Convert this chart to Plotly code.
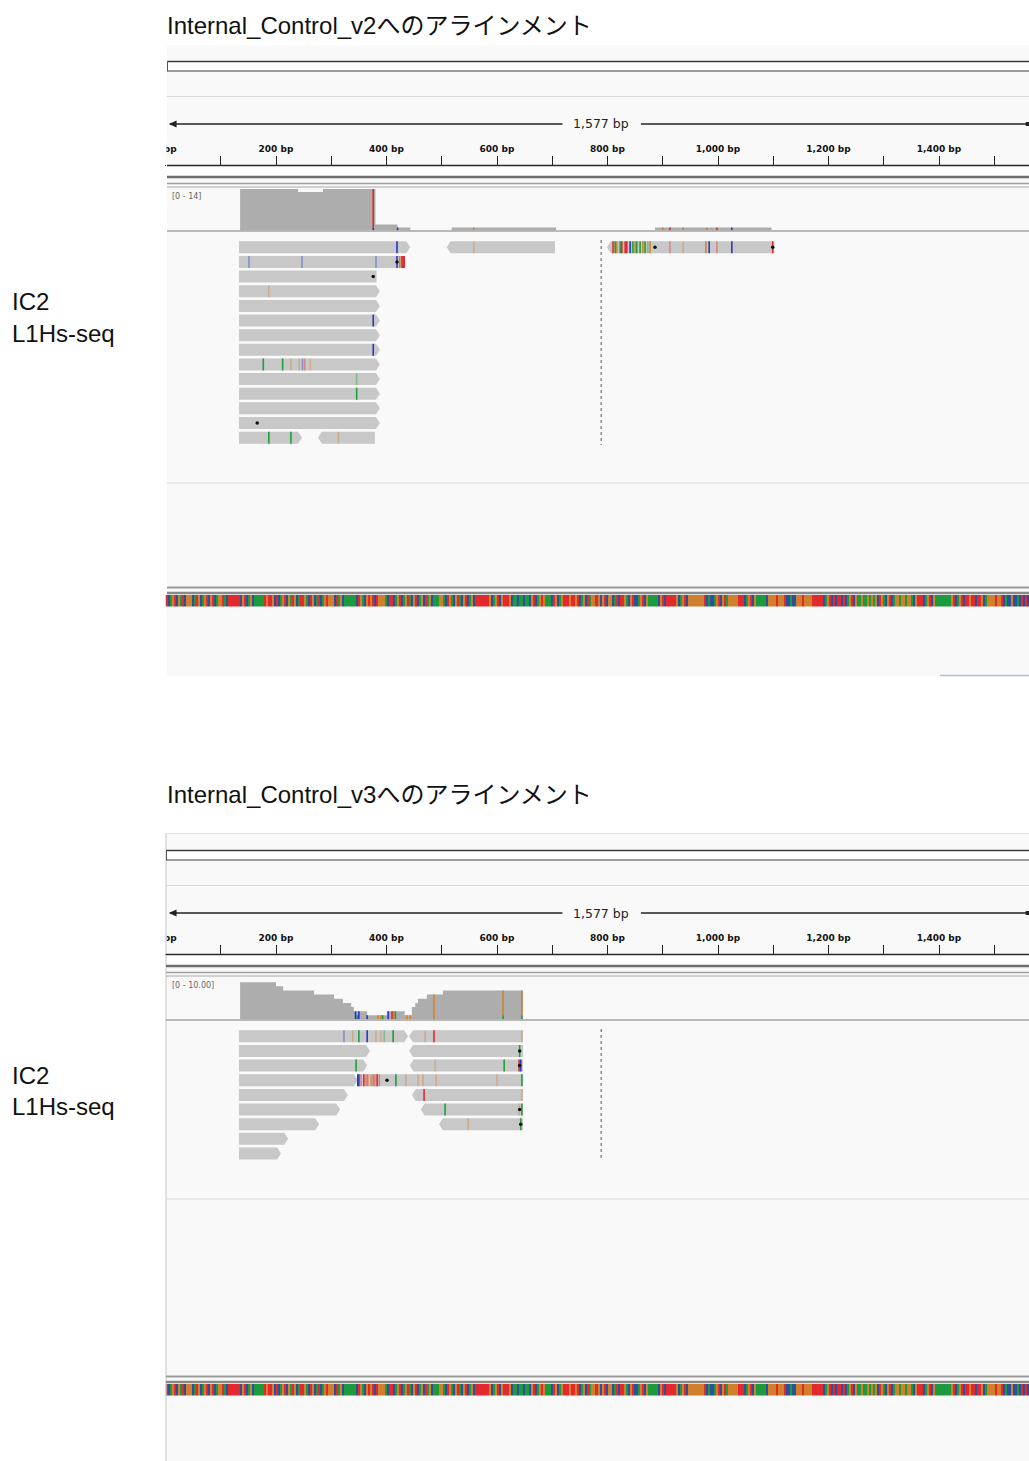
import plotly.graph_objects as go

W, H = 1029, 1461

# ---------------- reference / view ----------------
REF_LEN = 1577
VIEW_BP = (0, 1562.9)

TICK_BP = list(range(0, 1600, 100))
TICK_LABELS = ["0 bp", "", "200 bp", "", "400 bp", "", "600 bp", "", "800 bp", "",
               "1,000 bp", "", "1,200 bp", "", "1,400 bp", ""]

# dominant reference base per display bin across the view
REF_BASES = (
    "TCAGTC" "GATCG" "GGCATGC" "AGTCGT" "CAGGTAC" "TTTTTT" "CGTCAGC" "AAAAA" "TGTTGCT"
    "CAGTCGATGCA" "TT" "GACTGCATCAGT" "GGG" "CTAGC" "AAAAAA" "CTGACG" "TGT" "CTGGG" "ACT"
    "TCAGTCA" "GTACGTCAGCTAGCA" "AAGGA" "CTGACGTACGTCAGC" "TTTTTTT" "GCAGTCG" "TTT" "GCA"
    "ACAACAAC" "GTCAGTG" "AAA" "CTGCAGT" "TTGTTGT" "CAGCTAG" "GTGCGTCG"
    "GCATC" "TT" "GACGTC" "C" "AGTCGA" "AAAA" "CGTC" "TTTTT" "GCAGTCG" "GGGGGGG" "TCA" "CC"
    "AGTCGTA" "GGGGG" "TTT" "CAGTCG" "AAAAA" "C" "GGGGTGGG" "T" "CCACC" "GGGTGGGG"
    "TTTTT" "CAGTC" "TCTTCTC" "AGTCG" "AAGAAGAGAG" "CTGACGTCAG" "GAGGAGGA" "CG" "TTT"
    "CAGTCGA" "AAAAAAA" "GTCAGTC" "TTGTTCTT" "GCA" "GGGGTGG" "TCA" "CCGCCAC" "TCTC"
)

# ---------------- Internal_Control_v2 ----------------
v2_title = "Internal_Control_v2へのアラインメント"
v2_cov_range = "[0 - 14]"
v2_cov_max = 14
v2_cov_start = [135, 240, 285, 380, 420, 443, 518, 707, 886, 1097]
v2_cov_depth = [14, 13, 14, 2, 1, 0, 1, 0, 1, 0]
# coloured allele bars in coverage: (bp, low, high, base)
v2_cov_alleles = [(376, 1, 14, "T"), (376, 0, 1, "C"), (420, 0, 1, "C"), (558, 0, 1, "G"),
                  (900, 0, 1, "G"), (913, 0, 1, "T"), (937, 0, 1, "G"), (980, 0, 1, "G"),
                  (998, 0, 1, "T"), (1025, 0, 1, "C")]
v2_read_start = [133, 509, 799, 133, 133, 133, 133, 133, 133, 133, 133, 133, 133, 133, 133, 133, 276]
v2_read_end = [443, 705, 1102, 433, 382, 388, 388, 388, 388, 388, 388, 388, 388, 388, 388, 247, 379]
v2_read_row = [0, 0, 0, 1, 2, 3, 4, 5, 6, 7, 8, 9, 10, 11, 12, 13, 13]
v2_read_strand = ["+", "-", "-", ".", ".", "+", "+", "+", "+", "+", "+", "+", "+", "+", "+", "+", "-"]
# mismatches: (bp, row, base, low quality)
v2_mismatch = [
    (419, 0, "C", 0), (558, 0, "G", 1),
    (810, 0, "T", 0), (814, 0, "A", 0), (817, 0, "G", 0), (823, 0, "A", 0), (826, 0, "T", 0),
    (832, 0, "T", 0), (835, 0, "T", 0), (841, 0, "C", 0), (846, 0, "A", 0), (850, 0, "G", 0),
    (853, 0, "A", 0), (859, 0, "A", 0), (864, 0, "G", 0), (868, 0, "A", 0), (873, 0, "A", 1),
    (877, 0, "G", 0), (913, 0, "T", 1), (937, 0, "G", 1), (978, 0, "G", 0), (984, 0, "C", 0),
    (998, 0, "T", 1), (1025, 0, "C", 0), (1099, 0, "T", 0),
    (151, 1, "C", 1), (247, 1, "C", 1), (381, 1, "C", 1), (419, 1, "C", 0), (424, 1, "G", 0),
    (428, 1, "T", 0), (430, 1, "T", 0), (432, 1, "T", 0),
    (187, 3, "G", 1), (376, 5, "C", 0), (376, 7, "C", 0),
    (177, 8, "A", 0), (212, 8, "A", 0), (227, 8, "G", 1), (242, 8, "G", 1), (248, 8, "C", 1),
    (252, 8, "T", 1), (262, 8, "G", 1),
    (346, 9, "A", 1), (346, 10, "A", 0),
    (187, 13, "A", 0), (227, 13, "A", 0), (313, 13, "G", 1),
]
v2_indel = [(886, 0), (1099, 0), (419, 1), (376, 2), (166, 12)]

# ---------------- Internal_Control_v3 ----------------
v3_title = "Internal_Control_v3へのアラインメント"
v3_cov_range = "[0 - 10.00]"
v3_cov_max = 10
v3_cov_start = [135, 200, 213, 269, 305, 321, 336, 341, 365, 401, 433, 446, 452, 457, 473, 502, 647]
v3_cov_depth = [9, 8, 7, 6, 5, 4, 3, 2, 1, 2, 1, 3, 4, 5, 6, 7, 0]
v3_cov_alleles = [(344, 0, 2, "C"), (347, 0, 1, "A"), (350, 0, 2, "C"), (365, 0, 1, "C"),
                  (385, 0, 1, "G"), (390, 0, 1, "G"), (393, 0, 1, "A"), (403, 0, 2, "C"),
                  (410, 0, 2, "T"), (413, 0, 2, "G"), (416, 0, 2, "A"), (437, 0, 1, "G"),
                  (443, 0, 1, "G"), (486, 0, 6, "G"), (611, 1, 7, "G"), (611, 0, 1, "A"),
                  (645, 1, 7, "G"), (645, 0, 1, "A")]
v3_read_start = [133, 441, 133, 441, 133, 442, 133, 349, 133, 446, 133, 462, 133, 495, 133, 133]
v3_read_end = [439, 647, 370, 647, 365, 647, 348, 647, 330, 647, 316, 647, 278, 647, 222, 209]
v3_read_row = [0, 0, 1, 1, 2, 2, 3, 3, 4, 4, 5, 5, 6, 6, 7, 8]
v3_read_strand = ["+", "-", "+", "-", "+", "-", "+", ".", "+", "-", "+", "-", "+", "-", "+", "+"]
v3_mismatch = [
    (323, 0, "C", 1), (339, 0, "G", 1), (350, 0, "A", 0), (365, 0, "C", 0), (381, 0, "G", 1),
    (390, 0, "G", 1), (396, 0, "A", 1), (412, 0, "A", 0), (470, 0, "G", 1), (486, 0, "T", 0),
    (645, 0, "G", 1),
    (641, 1, "A", 0),
    (345, 2, "A", 0), (488, 2, "G", 1), (613, 2, "A", 0), (640, 2, "T", 0), (643, 2, "C", 0),
    (348, 3, "C", 0), (350, 3, "C", 0), (354, 3, "T", 1), (359, 3, "T", 0), (363, 3, "T", 1),
    (366, 3, "G", 0), (372, 3, "T", 1), (376, 3, "G", 0), (379, 3, "T", 1), (383, 3, "T", 0),
    (387, 3, "T", 1), (417, 3, "A", 0), (435, 3, "G", 1), (457, 3, "G", 1), (466, 3, "G", 1),
    (490, 3, "G", 1), (600, 3, "G", 1), (645, 3, "A", 0),
    (468, 4, "T", 0), (645, 4, "G", 1),
    (506, 5, "A", 0), (640, 5, "G", 1), (645, 5, "A", 0),
    (548, 6, "G", 1), (643, 6, "A", 0),
]
v3_indel = [(641, 1), (641, 2), (401, 3), (641, 5), (643, 6)]

# ---------------- styling ----------------
READ_FILL = "#c8c8c8"
COV_FILL = "#adadad"
PANEL_BG = "#f9f9f9"
BASE_RGB = {"A": (30, 160, 58), "C": (38, 58, 200), "G": (214, 130, 45), "T": (230, 38, 42)}
SEQ_COLORS = {"A": "#1d9a3e", "C": "#2d4f9e", "G": "#d07f2c", "T": "#e22a2c"}
TEXT_FONT = "Liberation Sans, Arial, Noto Sans CJK JP, sans-serif"
ROW_PX = 14.64
READ_HALF = 0.41
TIP_BP = 7
X0_PX = 165.5


def py(v):
    return 1 - v / H


def px(v):
    return v / W


def rgba(base, a=1.0):
    r, g, b = BASE_RGB[base]
    return f"rgba({r},{g},{b},{a})"


shapes, annotations = [], []


def hline(y, x0, x1, color, width, layer="above"):
    shapes.append(dict(type="line", xref="paper", yref="paper", x0=px(x0), x1=px(x1),
                       y0=py(y), y1=py(y), line=dict(color=color, width=width), layer=layer))


def vline(x, y0, y1, color, width, layer="above"):
    shapes.append(dict(type="line", xref="paper", yref="paper", x0=px(x), x1=px(x),
                       y0=py(y0), y1=py(y1), line=dict(color=color, width=width), layer=layer))


def box(x0, y0, x1, y1, fill, layer="below"):
    shapes.append(dict(type="rect", xref="paper", yref="paper", x0=px(x0), x1=px(x1),
                       y0=py(y0), y1=py(y1), fillcolor=fill, line=dict(width=0), layer=layer))


def text(x, y, s, size, family=TEXT_FONT, color="#111", xanchor="left", xref="paper", weight=None):
    f = dict(family=family, size=size, color=color)
    if weight:
        f["weight"] = weight
    annotations.append(dict(x=x if xref != "paper" else px(x), y=py(y), xref=xref, yref="paper",
                            text=s, showarrow=False, xanchor=xanchor, yanchor="middle", font=f,
                            borderpad=0))


def read_outline(s, e, r, strand):
    top, bot = r - READ_HALF, r + READ_HALF
    if strand == "+":
        return [s, e - TIP_BP, e, e - TIP_BP, s, s], [top, top, r, bot, bot, top]
    if strand == "-":
        return [s, s + TIP_BP, e, e, s + TIP_BP, s], [r, top, top, bot, bot, r]
    return [s, e, e, s, s], [top, top, bot, bot, top]


fig = go.Figure()
layout_axes = {}

panels = [
    dict(k=0, off=0, left=167, top=45, bottom=676, title_y=25, label_y=(301, 333), sep_y=483,
         n_rows=14, border=False, title=v2_title, cov_range=v2_cov_range, cov_max=v2_cov_max,
         cov_start=v2_cov_start, cov_depth=v2_cov_depth, cov_alleles=v2_cov_alleles,
         rs=v2_read_start, re=v2_read_end, rr=v2_read_row, rst=v2_read_strand,
         mm=v2_mismatch, indel=v2_indel),
    dict(k=1, off=789, left=166, top=833, bottom=1461, title_y=794, label_y=(1075, 1106), sep_y=1199,
         n_rows=9, border=True, title=v3_title, cov_range=v3_cov_range, cov_max=v3_cov_max,
         cov_start=v3_cov_start, cov_depth=v3_cov_depth, cov_alleles=v3_cov_alleles,
         rs=v3_read_start, re=v3_read_end, rr=v3_read_row, rst=v3_read_strand,
         mm=v3_mismatch, indel=v3_indel),
]

mid_bp = REF_LEN / 2
n_bins = len(REF_BASES)
bin_w = VIEW_BP[1] / n_bins
seq_x = [(i + 0.5) * bin_w for i in range(n_bins)]
seq_z = [["ACGT".index(b) for b in REF_BASES]]
seq_scale = [[0, SEQ_COLORS["A"]], [0.25, SEQ_COLORS["A"]], [0.25, SEQ_COLORS["C"]],
             [0.5, SEQ_COLORS["C"]], [0.5, SEQ_COLORS["G"]], [0.75, SEQ_COLORS["G"]],
             [0.75, SEQ_COLORS["T"]], [1, SEQ_COLORS["T"]]]

for p in panels:
    k, o = p["k"], p["off"]
    xa = "x" if k == 0 else "x2"
    yc, yr, ys = (["y", "y2", "y3"] if k == 0 else ["y4", "y5", "y6"])

    # ---- frame and track separators ----
    box(p["left"], p["top"], W, p["bottom"], PANEL_BG)
    # hide the part of the first ruler label (and its tick) that falls left of the track panel
    box(0, 139 + o, X0_PX + 0.9, 165 + o, "white", layer="above")
    if p["border"]:
        vline(p["left"], p["top"], p["bottom"], "#cfcfcf", 1.2)
        hline(p["top"] + 0.5, p["left"], W, "#e2e2e2", 1)
    box(p["left"], 61 + o, W, 71 + o, "white")
    hline(61.5 + o, p["left"], W, "#3c3c3c", 1.5)
    hline(71 + o, p["left"], W, "#7a7a7a", 1.5)
    vline(p["left"] + 0.5, 61 + o, 71 + o, "#555555", 1)
    hline(96.5 + o, p["left"], W, "#d8d8d8", 1)
    box(p["left"], 165 + o, W, 177 + o, "white")
    hline(165.5 + o, p["left"], W, "#2a2a2a", 1.5)
    hline(177 + o, p["left"], W, "#6e6e6e", 2.5)
    hline(183.5 + o, p["left"], W, "#a0a0a0", 1.5)
    hline(187 + o, p["left"], W, "#a8a8a8", 1)
    hline(231 + o, p["left"], W, "#a5a5a5", 1.5)
    hline(p["sep_y"], p["left"], W, "#d8d8d8", 1)
    hline(587.5 + o, p["left"], W, "#9a9a9a", 2)
    hline(593 + o, p["left"], W, "#888888", 2.5)

    # ---- ruler ----
    ry = 124 + o
    for x0, x1 in [(8, mid_bp - 70), (mid_bp + 72, VIEW_BP[1])]:
        shapes.append(dict(type="line", xref=xa, yref="paper", x0=x0, x1=x1, y0=py(ry), y1=py(ry),
                           line=dict(color="#222", width=1.3), layer="above"))
    shapes.append(dict(type="path", xref=xa, yref="paper", layer="above",
                       path=f"M 6,{py(ry)} L 20,{py(ry - 3.5)} L 20,{py(ry + 3.5)} Z",
                       fillcolor="#222", line=dict(width=0)))
    shapes.append(dict(type="rect", xref=xa, yref="paper", layer="above",
                       x0=VIEW_BP[1] - 6, x1=VIEW_BP[1], y0=py(ry + 2), y1=py(ry - 2),
                       fillcolor="#222", line=dict(width=0)))
    text(mid_bp, ry, f"{REF_LEN:,} bp", 12.5, family="DejaVu Sans", color="#222",
         xanchor="center", xref=xa)

    # ---- titles & labels ----
    text(166, p["title_y"], p["title"], 24)
    text(11, p["label_y"][0], "IC2", 24)
    text(11, p["label_y"][1], "L1Hs-seq", 24)
    text(171, 196 + o, p["cov_range"], 8, family="DejaVu Sans", color="#666")

    # ---- coverage ----
    fig.add_trace(go.Scatter(x=p["cov_start"], y=p["cov_depth"], mode="lines", line_shape="hv",
                             fill="tozeroy", fillcolor=COV_FILL, line=dict(width=0, color=COV_FILL),
                             xaxis=xa, yaxis=yc, hoverinfo="skip"))
    for b in "ACGT":
        xs, ys_ = [], []
        for bp, lo, hi, base in p["cov_alleles"]:
            if base == b:
                xs += [bp, bp, None]
                ys_ += [lo, hi, None]
        if xs:
            fig.add_trace(go.Scatter(x=xs, y=ys_, mode="lines", line=dict(color=rgba(b), width=1.6),
                                     xaxis=xa, yaxis=yc, hoverinfo="skip"))

    # ---- reads ----
    xs, ys_ = [], []
    for s, e, r, st in zip(p["rs"], p["re"], p["rr"], p["rst"]):
        ox, oy = read_outline(s, e, r, st)
        xs += ox + [None]
        ys_ += oy + [None]
    fig.add_trace(go.Scatter(x=xs, y=ys_, mode="lines", fill="toself", fillcolor=READ_FILL,
                             line=dict(width=0, color=READ_FILL), xaxis=xa, yaxis=yr, hoverinfo="skip"))
    for b in "ACGT":
        for faint in (1, 0):
            xs, ys_ = [], []
            for bp, r, base, lq in p["mm"]:
                if base == b and lq == faint:
                    xs += [bp, bp, None]
                    ys_ += [r - READ_HALF, r + READ_HALF, None]
            if xs:
                fig.add_trace(go.Scatter(x=xs, y=ys_, mode="lines",
                                         line=dict(color=rgba(b, 0.4 if faint else 1.0), width=1.6),
                                         xaxis=xa, yaxis=yr, hoverinfo="skip"))
    fig.add_trace(go.Scatter(x=[d[0] for d in p["indel"]], y=[d[1] for d in p["indel"]], mode="markers",
                             marker=dict(color="#111", size=3.5, symbol="circle"),
                             xaxis=xa, yaxis=yr, hoverinfo="skip"))
    fig.add_trace(go.Scatter(x=[mid_bp, mid_bp], y=[-0.5, p["n_rows"] - 0.5], mode="lines",
                             line=dict(color="#555", width=1, dash="3px,3px"),
                             xaxis=xa, yaxis=yr, hoverinfo="skip"))

    # ---- reference sequence ----
    fig.add_trace(go.Heatmap(x=seq_x, y=[0], z=seq_z, zmin=0, zmax=3, colorscale=seq_scale,
                             showscale=False, xaxis=xa, yaxis=ys, hoverinfo="skip"))

    # ---- axes ----
    layout_axes["xaxis" if k == 0 else "xaxis2"] = dict(
        domain=[px(X0_PX), 1], range=list(VIEW_BP), anchor="free", position=py(165.5 + o),
        side="top", showgrid=False, zeroline=False, showline=False, ticks="outside", ticklen=10,
        tickwidth=1.2, tickcolor="#222", tickvals=TICK_BP, ticktext=TICK_LABELS, automargin=False,
        tickfont=dict(family="DejaVu Sans", size=9, color="#111", weight="bold"), fixedrange=True)
    cov_dom = [py(230.5 + o), py(189 + o)]
    rows_top = 240 + o
    read_dom = [py(rows_top + ROW_PX * p["n_rows"]), py(rows_top)]
    seq_dom = [py(606.5 + o), py(595 + o)]
    for name, dom, rng in [(yc, cov_dom, [0, p["cov_max"]]),
                           (yr, read_dom, [p["n_rows"] - 0.5, -0.5]),
                           (ys, seq_dom, [-0.5, 0.5])]:
        key = "yaxis" if name == "y" else "yaxis" + name[1:]
        layout_axes[key] = dict(domain=dom, range=rng, anchor=xa, visible=False, fixedrange=True,
                                automargin=False)

# selection strip at the bottom edge of the first panel
hline(675.5, 940, W, "#a9c1ea", 1.5)

fig.update_layout(
    width=W, height=H, margin=dict(l=0, r=0, t=0, b=0, autoexpand=False),
    paper_bgcolor="white", plot_bgcolor="rgba(0,0,0,0)", showlegend=False,
    shapes=shapes, annotations=annotations, hovermode=False, **layout_axes,
)

fig.write_html("out.html")
